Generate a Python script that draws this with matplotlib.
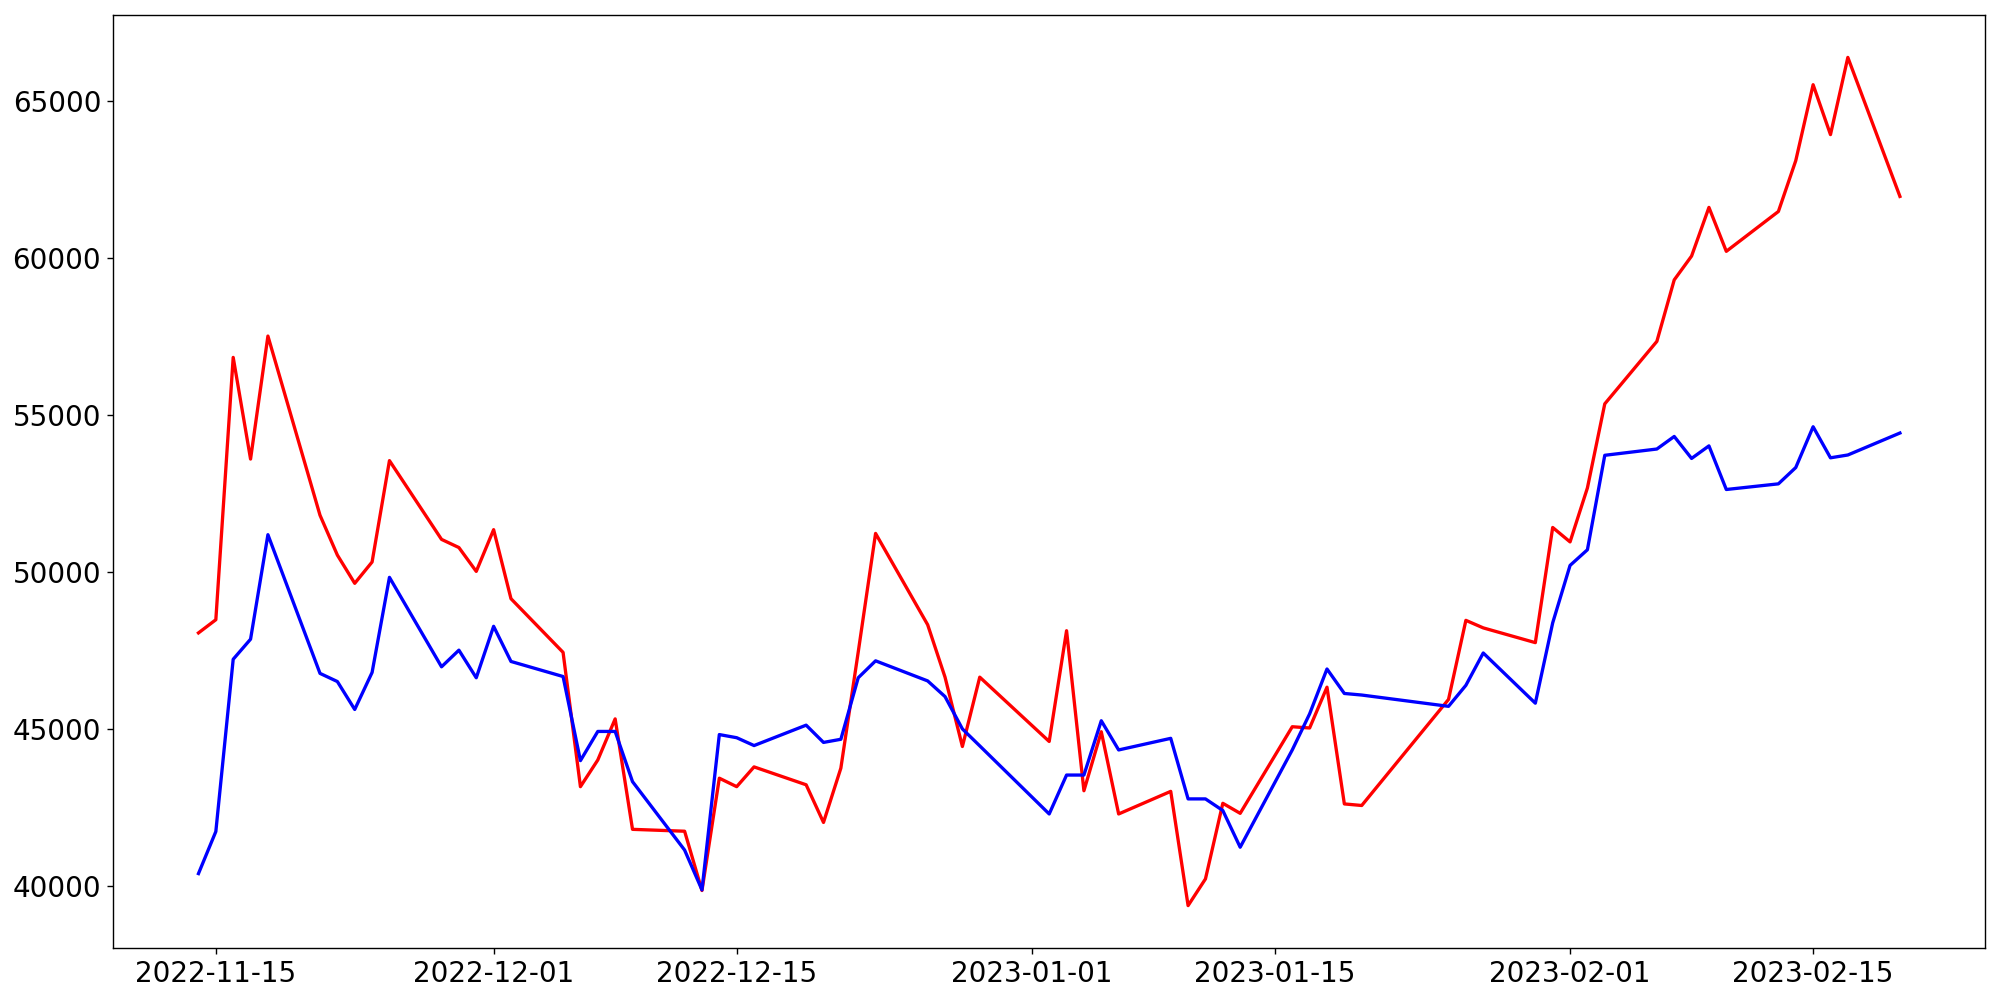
import matplotlib
matplotlib.use('Agg')
import matplotlib.pyplot as plt
import pandas as pd

dates = [
    '2022-11-14', '2022-11-15', '2022-11-16', '2022-11-17', '2022-11-18',
    '2022-11-21', '2022-11-22', '2022-11-23', '2022-11-24', '2022-11-25',
    '2022-11-28', '2022-11-29', '2022-11-30', '2022-12-01', '2022-12-02',
    '2022-12-05', '2022-12-06', '2022-12-07', '2022-12-08', '2022-12-09',
    '2022-12-12', '2022-12-13', '2022-12-14', '2022-12-15', '2022-12-16',
    '2022-12-19', '2022-12-20', '2022-12-21', '2022-12-22', '2022-12-23',
    '2022-12-26', '2022-12-27', '2022-12-28', '2022-12-29',
    '2023-01-02', '2023-01-03', '2023-01-04', '2023-01-05', '2023-01-06',
    '2023-01-09', '2023-01-10', '2023-01-11', '2023-01-12', '2023-01-13',
    '2023-01-16', '2023-01-17', '2023-01-18', '2023-01-19', '2023-01-20',
    '2023-01-25', '2023-01-26', '2023-01-27',
    '2023-01-30', '2023-01-31', '2023-02-01', '2023-02-02', '2023-02-03',
    '2023-02-06', '2023-02-07', '2023-02-08', '2023-02-09', '2023-02-10',
    '2023-02-13', '2023-02-14', '2023-02-15', '2023-02-16', '2023-02-17',
    '2023-02-20',
]

red_values = [
    48060, 48480, 56840, 53600, 57520,
    51810, 50540, 49640, 50320, 53550,
    51040, 50780, 50020, 51350, 49150,
    47440, 43160, 44010, 45320, 41800,
    41740, 39850, 43430, 43160, 43790,
    43220, 42020, 43750, 47450, 51230,
    48320, 46650, 44440, 46650,
    44600, 48130, 43030, 44910, 42290,
    43010, 39370, 40220, 42630, 42310,
    45070, 45030, 46330, 42610, 42560,
    45940, 48460, 48220,
    47750, 51420, 50960, 52680, 55360,
    57350, 59310, 60070, 61620, 60220,
    61490, 63110, 65530, 63940, 66400,
    61970,
]

blue_values = [
    40390, 41730, 47220, 47860, 51190,
    46770, 46510, 45620, 46800, 49830,
    46980, 47510, 46630, 48270, 47150,
    46670, 43990, 44920, 44920, 43320,
    41140, 39870, 44820, 44720, 44470,
    45120, 44570, 44670, 46630, 47170,
    46530, 46030, 45000, 44460,
    42290, 43530, 43530, 45260, 44330,
    44700, 42770, 42770, 42400, 41230,
    44330, 45480, 46910, 46130, 46080,
    45720, 46390, 47420,
    45820, 48380, 50210, 50710, 53720,
    53920, 54320, 53620, 54020, 52630,
    52810, 53330, 54630, 53640, 53730,
    54430,
]

x = pd.to_datetime(dates)

fig, ax = plt.subplots(figsize=(16, 8), dpi=125)
ax.plot(x, red_values, color='red', linewidth=1.9)
ax.plot(x, blue_values, color='blue', linewidth=1.9)
ax.tick_params(labelsize=16)

fig.subplots_adjust(left=0.0567, right=0.9925, top=0.985, bottom=0.052)
fig.savefig('out.png')
